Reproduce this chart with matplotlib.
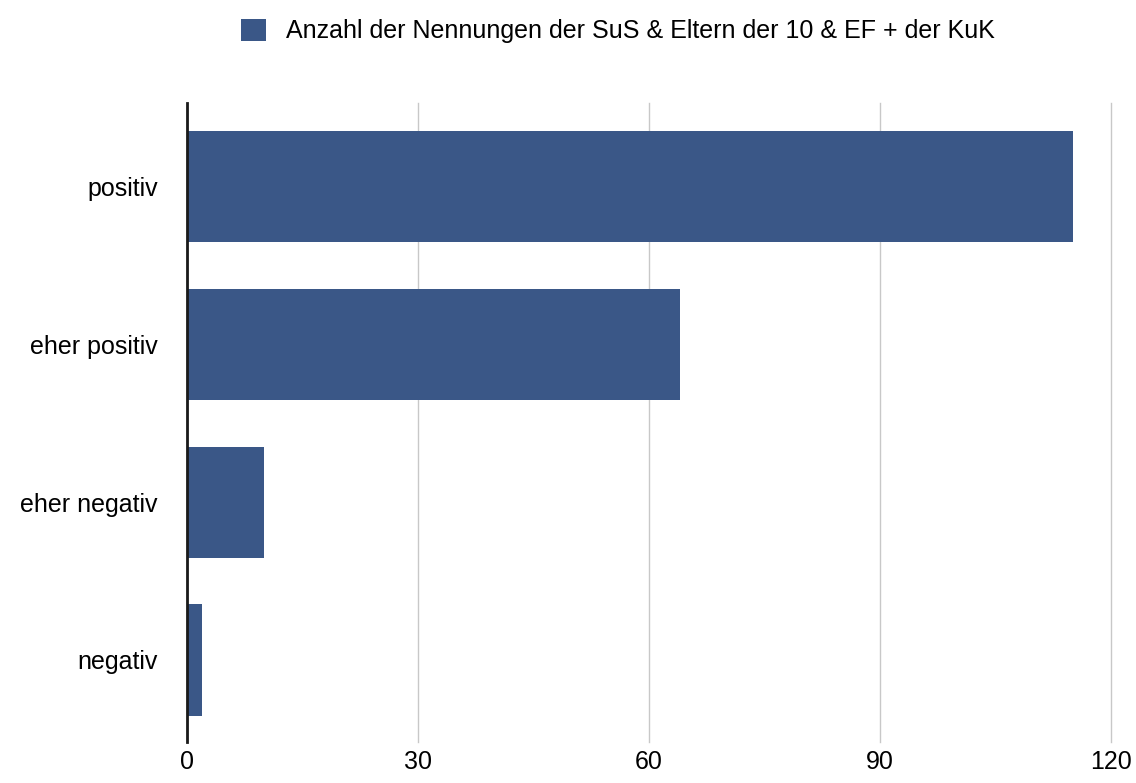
import numpy as np
import matplotlib.pyplot as plt
from matplotlib.patches import Patch

categories = ['positiv', 'eher positiv', 'eher negativ', 'negativ']
values = [115, 64, 10, 2]
series_label = 'Anzahl der Nennungen der SuS & Eltern der 10 & EF + der KuK'
xticks = [0, 30, 60, 90, 120]

plt.rcParams['font.family'] = ['Liberation Sans', 'DejaVu Sans']
color = '#3a5787'

fig = plt.figure(figsize=(11.36, 7.83), dpi=100)
ax = fig.add_axes([0.1646, 0.0524, 0.8134, 0.8161])

y = np.arange(len(categories))
ax.barh(y, values, height=0.705, color=color, zorder=3)

ax.set_xlim(0, 120)
ax.set_ylim(3.52, -0.53)
ax.set_xticks(xticks)
ax.set_xticklabels([str(t) for t in xticks], fontsize=18)
ax.set_yticks(y)
ax.set_yticklabels(categories, fontsize=18)
ax.tick_params(axis='both', length=0)
ax.tick_params(axis='y', pad=21)
ax.tick_params(axis='x', pad=6)

ax.grid(axis='x', color='#c8c8c8', linewidth=1, zorder=0)
for gl in ax.get_xgridlines():
    gl.set_clip_on(False)
for s in ['top', 'right', 'bottom']:
    ax.spines[s].set_visible(False)
ax.spines['left'].set_color('#1a1a1a')
ax.spines['left'].set_linewidth(2)
ax.spines['left'].set_zorder(4)

fig.legend(handles=[Patch(facecolor=color, label=series_label)],
           loc='upper center', bbox_to_anchor=(0.544, 1.005), frameon=False,
           fontsize=18, handlelength=1.0, handleheight=1.0, handletextpad=0.8)

plt.savefig('out.png')
